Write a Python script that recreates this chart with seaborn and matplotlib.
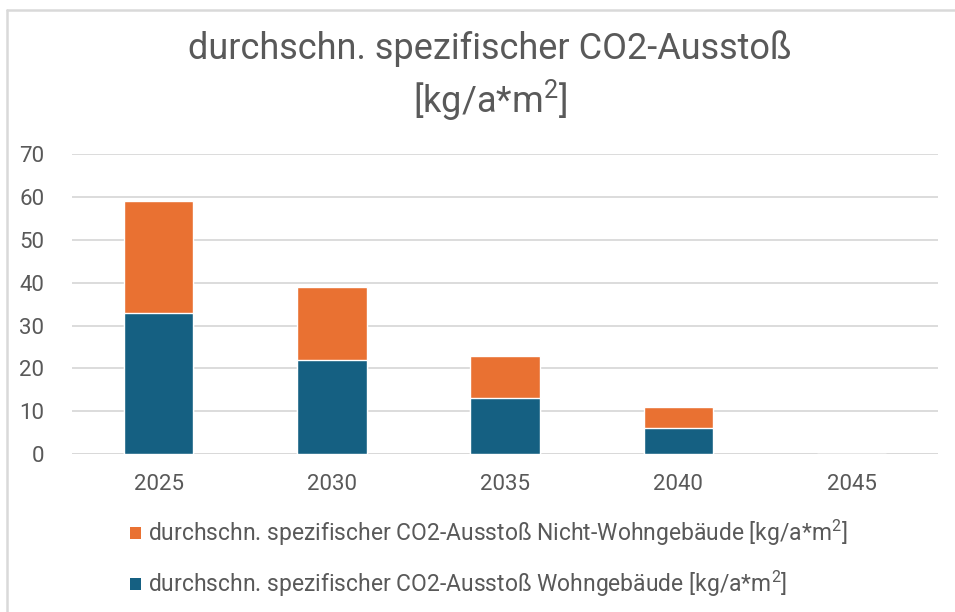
import matplotlib
matplotlib.use("Agg")
import matplotlib.pyplot as plt
from matplotlib.lines import Line2D
from matplotlib.patches import Patch
import seaborn as sns
import pandas as pd

years = ["2025", "2030", "2035", "2040", "2045"]
wohn = [33, 22, 13, 6, 0]
nicht_wohn = [26, 17, 10, 5, 0]
yticks = [0, 10, 20, 30, 40, 50, 60, 70]

title = "durchschn. spezifischer CO2-Ausstoß\n[kg/a*m$^2$]"
label_nw = "durchschn. spezifischer CO2-Ausstoß Nicht-Wohngebäude [kg/a*m$^2$]"
label_w = "durchschn. spezifischer CO2-Ausstoß Wohngebäude [kg/a*m$^2$]"

c_orange = "#E97132"
c_blue = "#156082"
c_text = "#595959"
c_grid = "#D9D9D9"

sns.set_theme(style="white")
plt.rcParams["font.family"] = ["Roboto", "DejaVu Sans"]
plt.rcParams["mathtext.default"] = "regular"

df = pd.DataFrame({"year": years, "wohn": wohn, "nicht": nicht_wohn})
df["total"] = df["wohn"] + df["nicht"]

fig = plt.figure(figsize=(9.55, 6.12), dpi=100)
ax = fig.add_axes([0.0754, 0.258, 0.907, 0.49])

sns.barplot(data=df, x="year", y="total", color=c_orange, width=0.4,
            saturation=1, ax=ax, zorder=3)
sns.barplot(data=df, x="year", y="wohn", color=c_blue, width=0.4,
            saturation=1, ax=ax, zorder=4)

ax.set_xlim(-0.5, len(years) - 0.5)
ax.set_ylim(0, 70)
ax.set_yticks(yticks)
ax.yaxis.grid(True, color=c_grid, linewidth=1.3, zorder=0)
ax.set_axisbelow(True)
for s in ax.spines.values():
    s.set_visible(False)
ax.set_xlabel("")
ax.set_ylabel("")
ax.tick_params(axis="both", length=0, labelsize=16, colors=c_text)
ax.tick_params(axis="y", pad=20)
ax.tick_params(axis="x", pad=14)
ax.axhline(0, color=c_grid, linewidth=1.3, zorder=2)

fig.text(0.513, 0.875, title, ha="center", va="center", fontsize=26,
         color=c_text, linespacing=1.3)

handles = [Patch(facecolor=c_orange, edgecolor="none"),
           Patch(facecolor=c_blue, edgecolor="none")]
leg = fig.legend(handles, [label_nw, label_w], loc="center left",
                 bbox_to_anchor=(0.127, 0.087), frameon=False, fontsize=16.5,
                 labelcolor=c_text, handlelength=0.45, handleheight=0.45,
                 handletextpad=0.3, labelspacing=0.9, borderaxespad=0)

# chart frame lines
fig.add_artist(Line2D([7/955, 1.0], [1 - 10/612, 1 - 10/612],
                      transform=fig.transFigure, color=c_grid, linewidth=1.8))
fig.add_artist(Line2D([7/955, 7/955], [0, 1 - 10/612],
                      transform=fig.transFigure, color=c_grid, linewidth=1.8))

fig.savefig("out.png", dpi=100)
